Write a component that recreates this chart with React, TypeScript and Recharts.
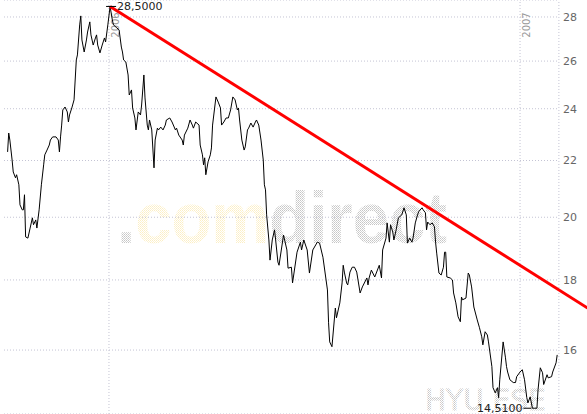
import React from 'react';
import { LineChart, Line, XAxis, YAxis, CartesianGrid, ReferenceLine, ReferenceDot } from 'recharts';

// calendar day offsets from 01.01.2006
const days = [
  -90, -89, -88, -86, -85, -83, -82, -80, -79, -77, -76, -75, -74, -72, -70, -68, -67, -65, -64, -62,
  -60, -58, -57, -55, -53, -52, -50, -47, -45, -44, -43, -42, -41, -39, -37, -36, -35, -33, -31, -29,
  -28, -26, -25, -24, -22, -20, -19, -17, -16, -14, -12, -11, -10, -8, -6, -4, -3, -1, 1, 3,
  4, 7, 9, 11, 12, 13, 15, 17, 18, 20, 21, 23, 24, 26, 28, 29, 31, 32, 34, 35,
  36, 38, 40, 41, 43, 44, 46, 48, 50, 51, 54, 56, 59, 60, 62, 65, 66, 67, 70, 72,
  74, 75, 77, 80, 81, 83, 84, 85, 86, 88, 90, 91, 92, 95, 97, 98, 99, 100, 102, 104,
  106, 108, 110, 112, 114, 115, 116, 118, 120, 121, 123, 124, 126, 128, 130, 131, 133, 135, 137, 138,
  139, 140, 142, 143, 145, 147, 148, 150, 151, 155, 158, 159, 162, 163, 167, 170, 171, 173,
  176, 178, 181, 185, 187, 190, 194, 195, 196, 198, 201, 202, 205, 207, 208, 209, 211, 212, 214, 216,
  218, 220, 223, 225, 229, 230, 231, 233, 236, 240, 242, 243, 246, 247, 249, 250, 252, 253, 255, 257,
  260, 262, 264, 265, 267, 269, 270, 272, 274, 275, 278, 279, 281, 282, 283, 285, 287, 289, 290, 291,
  293, 295, 297, 298, 299, 300, 303, 305, 306, 308, 310, 312, 313, 314, 317, 319, 320, 322, 324, 327,
  329, 331, 332, 334, 336, 337, 340, 341, 343, 345, 346, 347, 350, 352, 353, 354, 356, 359, 361, 362,
  365, 367, 369, 371, 372, 374, 376, 378, 380, 381, 383, 385, 386, 389, 390, 393, 394, 397, 398,
];

const prices = [
  22.32, 23.04, 22.77, 22.02, 21.58, 21.37, 21.48, 21.12, 20.42, 20.25,
  20.25, 20.77, 19.35, 19.31, 19.64, 19.98, 19.75, 19.91, 19.64, 20.25,
  21.12, 21.84, 22.21, 22.39, 22.58, 22.77, 22.89, 22.89, 22.77, 22.32,
  22.89, 23.35, 23.95, 24.07, 23.87, 23.47, 23.75, 24.03, 24.36, 26.05,
  26.27, 27.63, 28.05, 26.94, 26.4, 26.94, 27.3, 27.77, 27.17, 26.71,
  27.03, 27.17, 26.71, 26.36, 26.71, 27.03, 26.85, 27.63, 28.5, 27.86,
  27.63, 27.49, 27.4, 26.62, 26.4, 26.05, 25.96, 25.4, 24.56, 24.77,
  24.03, 23.63, 23.16, 23.87, 23.75, 24.15, 25.4, 24.44, 23.35, 23.16,
  23.55, 23.16, 21.73, 22.77, 23.23, 23.16, 23.27, 23.16, 23.35, 23.55,
  23.63, 23.47, 23.16, 23.23, 22.96, 22.77, 22.58, 22.96, 23.23, 23.55,
  23.35, 23.23, 23.47, 23.35, 22.58, 22.21, 21.84, 22.1, 21.48, 21.95,
  22.21, 22.47, 23.35, 24.48, 24.27, 24.15, 24.03, 23.35, 23.47, 23.63,
  23.63, 23.95, 24.48, 24.36, 23.95, 24.03, 23.55, 22.77, 22.39, 22.51,
  23.16, 23.23, 23.43, 23.27, 23.47, 23.55, 23.35, 22.77, 22.02, 21.12,
  20.94, 20.08, 19.25, 18.61, 19.25, 19.58, 19.25, 18.55,
  18.45, 19.41, 18.93, 18.36, 18.39, 17.91, 18.86, 19.18, 18.93, 19.25, 18.93, 18.21,
  18.93, 19.18, 19.15, 18.7, 17.7, 16.75, 16.22, 16.09, 17.17, 16.89,
  17.32, 17.91, 18.45, 18.24, 17.91, 17.85, 18.24, 18.39, 18.39, 18.24,
  17.61, 17.79, 18.06, 17.85, 18.06, 18.3, 18.09, 18.45, 18.06, 18.93,
  19.31, 19.81, 19.18, 19.75, 19.51, 19.25, 19.58, 19.98, 20.08, 20.32,
  20.08, 19.15, 19.31, 19.18, 19.31, 19.81, 20.08, 20.19, 20.32, 20.25,
  20.15, 19.58, 19.84, 19.75, 19.81, 19.68, 19.18, 18.83, 18.21, 18.15,
  18.39, 18.86, 18.86, 18.09, 18.06, 18.0, 17.61, 17.32, 16.92, 16.78,
  17.49, 17.41, 17.46, 18.21, 18.15, 17.79, 17.2, 16.83, 16.61, 16.36,
  16.14, 16.5, 16.41, 16.22, 15.56, 15.02, 14.89, 15.02, 14.77, 15.22,
  16.22, 15.81, 15.56, 15.42, 15.22, 15.15, 15.15, 15.3, 15.42, 15.48,
  15.22, 14.77, 14.64, 14.79, 14.51, 14.51, 14.51, 14.97, 15.53, 15.4,
  15.1, 15.35, 15.27, 15.3, 15.42, 15.66, 15.87,
];

const yTicks = [16, 18, 20, 22, 24, 26, 28];
const years = [{ day: 0, label: '2006' }, { day: 365, label: '2007' }];
const high = { day: 1, value: 28.5, label: '28,5000' };
const low = { day: 376, value: 14.51, label: '14,5100' };
const trendDays = [1, 425];
const trendValues = [28.5, 17.17];

const data = days.map((d, i) => ({ day: d, price: prices[i] }));

const FONT = "'DejaVu Sans', Verdana, sans-serif";

const YearLabel = (props: any) => {
  const { viewBox, value } = props;
  const x = viewBox.x + 10;
  const y = viewBox.y + 25;
  return (
    <text x={x} y={y} transform={`rotate(-90 ${x} ${y})`} textAnchor="middle" fontSize={10} fill="#999" fontFamily={FONT}>
      {value}
    </text>
  );
};

const HighMark = (props: any) => {
  const { cx, cy } = props;
  return (
    <g>
      <line x1={cx - 4} y1={cy} x2={cx + 6} y2={cy} stroke="#000" strokeWidth={1} />
      <text x={cx + 7} y={cy} dominantBaseline="central" fontSize={11} fill="#222" fontFamily={FONT}>{high.label}</text>
    </g>
  );
};

const LowMark = (props: any) => {
  const { cx, cy } = props;
  return (
    <g>
      <line x1={cx - 9} y1={cy} x2={cx - 1} y2={cy} stroke="#000" strokeWidth={1} />
      <text x={cx - 10} y={cy} dominantBaseline="central" textAnchor="end" fontSize={11} fill="#222" fontFamily={FONT}>{low.label}</text>
    </g>
  );
};

const Watermark = () => (
  <svg width={587} height={414} style={{ position: 'absolute', left: 0, top: 0 }}>
    <defs>
      <pattern id="dotGrey" width={2} height={2} patternUnits="userSpaceOnUse">
        <rect x={0} y={0} width={1} height={1} fill="#c6c6c6" />
        <rect x={1} y={1} width={1} height={1} fill="#d4d4d4" />
      </pattern>
      <pattern id="dotYellow" width={2} height={2} patternUnits="userSpaceOnUse">
        <rect x={0} y={0} width={1} height={1} fill="#fcefc4" />
        <rect x={1} y={1} width={1} height={1} fill="#fdf3d4" />
      </pattern>
    </defs>
    <text x={117} y={243} fontFamily="'Liberation Sans', Arial, sans-serif" fontWeight="bold" fontSize={72} textLength={330} lengthAdjust="spacingAndGlyphs">
      <tspan fill="url(#dotGrey)">.</tspan>
      <tspan fill="url(#dotYellow)">com</tspan>
      <tspan fill="url(#dotGrey)">direct</tspan>
    </text>
    <text x={425} y={410} fontFamily={FONT} fontSize={28} fill="url(#dotGrey)" stroke="url(#dotGrey)" strokeWidth={0.8}>HYU.ESE</text>
  </svg>
);

export default function App() {
  return (
    <div style={{ position: 'absolute', left: 0, top: 0, width: 587, height: 414, background: '#fff', overflow: 'hidden' }}>
      <Watermark />
      <div style={{ position: 'absolute', left: 0, top: 0 }}>
        <LineChart width={587} height={414} data={data} margin={{ top: 0, right: 0, bottom: 0, left: 4 }}>
          <CartesianGrid vertical={false} stroke="#c4c4d4" strokeDasharray="1 2" />
          <XAxis dataKey="day" type="number" domain={[-93.2, 399.6]} allowDataOverflow hide />
          <YAxis
            orientation="right"
            scale="log"
            domain={[14.37, 28.81]}
            allowDataOverflow
            ticks={yTicks}
            width={28}
            axisLine={false}
            tickLine={false}
            tickSize={2}
            tickMargin={2}
            tick={{ fill: '#666', fontSize: 11, fontFamily: FONT }}
          />
          {years.map((yr) => (
            <ReferenceLine key={yr.label} x={yr.day} stroke="#c4c4d4" strokeDasharray="1 2" label={<YearLabel value={yr.label} />} />
          ))}
          <ReferenceLine x={399.5} stroke="#c4c4d4" strokeDasharray="1 2" />
          <Line type="linear" dataKey="price" stroke="#000" strokeWidth={1} dot={false} isAnimationActive={false} />
          <ReferenceLine
            segment={[{ x: trendDays[0], y: trendValues[0] }, { x: trendDays[1], y: trendValues[1] }]}
            stroke="#ff0000"
            strokeWidth={3}
            ifOverflow="visible"
          />
          <ReferenceDot x={high.day} y={high.value} r={0} shape={<HighMark />} ifOverflow="visible" />
          <ReferenceDot x={low.day} y={low.value} r={0} shape={<LowMark />} ifOverflow="visible" />
        </LineChart>
      </div>
    </div>
  );
}
